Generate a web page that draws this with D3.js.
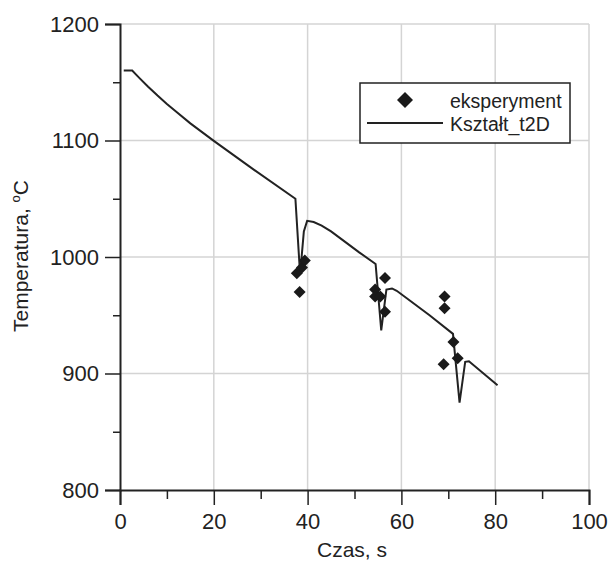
<!DOCTYPE html>
<html><head><meta charset="utf-8">
<script src="https://cdn.jsdelivr.net/npm/d3@7"></script>
<style>body{margin:0;background:#fff;} svg{display:block;font-family:"Liberation Sans",Arial,sans-serif;}</style>
</head><body>
<script>
// Model curve (Kształt_t2D)
const modelTime = [0.8, 2.6, 4, 6, 8, 10, 12, 15, 20, 28, 37.4, 38.4, 39.2, 39.9, 41.3, 43, 45, 48, 51, 54.5, 55.7, 56.8, 58, 59, 61, 66, 71.0, 72.4, 73.6, 74.4, 80.5];
const modelTemp = [1160, 1160, 1154.2, 1146.2, 1138.6, 1131.4, 1124.6, 1114.7, 1099.7, 1076.5, 1050, 985, 1022, 1031, 1030, 1027, 1022, 1013, 1004, 994, 937, 972, 973, 971, 965, 950, 934, 875, 910, 910.5, 890];
// Experimental points (eksperyment)
const expTime = [37.7, 38.3, 38.8, 39.4, 54.4, 54.4, 55.5, 56.5, 56.5, 69.2, 69.2, 71.1, 72.0, 69.0];
const expTemp = [986, 970, 991, 997, 972, 966, 966, 982, 953, 966, 956, 927, 913, 908];
const xTicks = [0, 20, 40, 60, 80, 100];
const yTicks = [800, 900, 1000, 1100, 1200];
const legendLabels = ["eksperyment", "Kształt_t2D"];

const W = 608, H = 562;
const svg = d3.select("body").append("svg").attr("width", W).attr("height", H);
const x = d3.scaleLinear().domain([0, 100]).range([120, 589]);
const y = d3.scaleLinear().domain([800, 1200]).range([490, 24]);

// grid
const grid = svg.append("g").attr("stroke", "#d4d4d4").attr("stroke-width", 1.5);
grid.selectAll("line.v").data(xTicks.slice(1)).join("line")
  .attr("x1", d => x(d)).attr("x2", d => x(d)).attr("y1", y(1200)).attr("y2", y(800));
grid.selectAll("line.h").data(yTicks.slice(1)).join("line")
  .attr("x1", x(0)).attr("x2", x(100)).attr("y1", d => y(d)).attr("y2", d => y(d));

// axes
const xAxis = d3.axisBottom(x).tickValues(xTicks).tickSize(15).tickPadding(8).tickFormat(d3.format("d"));
const xMinor = d3.axisBottom(x).tickValues([10, 30, 50, 70, 90]).tickSize(9).tickFormat("");
const yAxis = d3.axisLeft(y).tickValues(yTicks).tickSize(15).tickPadding(6).tickFormat(d3.format("d"));
const yMinor = d3.axisLeft(y).tickValues([850, 950, 1050, 1150]).tickSize(7).tickFormat("");

function styleAxis(g) {
  g.selectAll("path").attr("stroke", "#222").attr("stroke-width", 2);
  g.selectAll("line").attr("stroke", "#222").attr("stroke-width", 1.5);
  g.selectAll("text").attr("fill", "#222").style("font-size", "22px").style("font-family", "'Liberation Sans',Arial,sans-serif");
}
svg.append("g").attr("transform", `translate(0,${y(800)})`).call(xMinor).call(styleAxis).select("path").remove();
svg.append("g").attr("transform", `translate(0,${y(800)})`).call(xAxis).call(styleAxis);
svg.append("g").attr("transform", `translate(${x(0)},0)`).call(yMinor).call(styleAxis).select("path").remove();
svg.append("g").attr("transform", `translate(${x(0)},0)`).call(yAxis).call(styleAxis);

// axis titles
svg.append("text").attr("x", 352).attr("y", 557).attr("text-anchor", "middle")
  .style("font-size", "21px").attr("fill", "#222").text("Czas, s");
const yt = svg.append("text").attr("transform", "translate(28,256) rotate(-90)").attr("text-anchor", "middle")
  .style("font-size", "21px").attr("fill", "#222");
yt.append("tspan").text("Temperatura, ");
yt.append("tspan").attr("dy", -8).style("font-size", "13px").text("o");
yt.append("tspan").attr("dy", 8).text("C");

// model line
const line = d3.line().x(d => x(d[0])).y(d => y(d[1]));
const modelData = modelTime.map((t, i) => [t, modelTemp[i]]);
svg.append("path").datum(modelData).attr("d", line)
  .attr("fill", "none").attr("stroke", "#222").attr("stroke-width", 2).attr("stroke-linejoin", "miter");

// diamonds
const diamond = r => `M0,${-r}L${r},0L0,${r}L${-r},0Z`;
const expData = expTime.map((t, i) => [t, expTemp[i]]);
svg.append("g").selectAll("path").data(expData).join("path")
  .attr("transform", d => `translate(${x(d[0])},${y(d[1])})`)
  .attr("d", diamond(6)).attr("fill", "#1a1a1a");

// legend
const lg = svg.append("g");
lg.append("rect").attr("x", 360).attr("y", 83).attr("width", 210).attr("height", 60)
  .attr("fill", "#fff").attr("stroke", "#222").attr("stroke-width", 1.5);
lg.append("path").attr("transform", "translate(405,100)").attr("d", diamond(8)).attr("fill", "#1a1a1a");
lg.append("line").attr("x1", 367).attr("x2", 443).attr("y1", 123).attr("y2", 123).attr("stroke", "#222").attr("stroke-width", 2);
lg.selectAll("text").data(legendLabels).join("text")
  .attr("x", 450).attr("y", (d, i) => 108 + i * 23)
  .style("font-size", "19.5px").attr("fill", "#222").text(d => d);
</script>
</body></html>
